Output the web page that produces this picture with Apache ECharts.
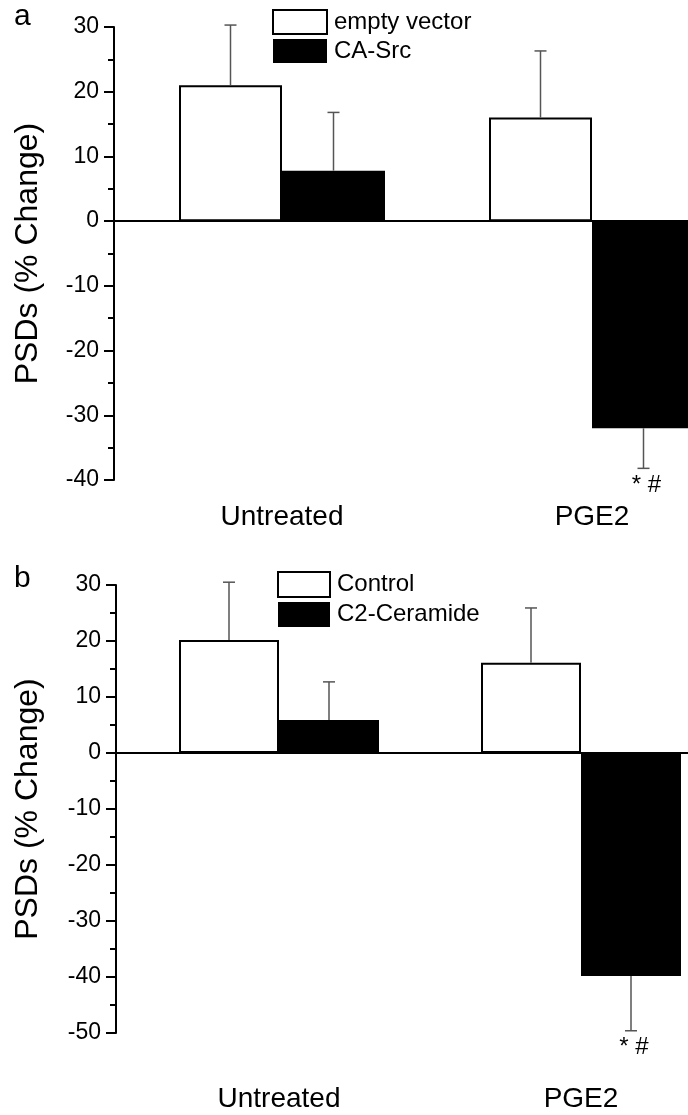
<!DOCTYPE html>
<html>
<head>
<meta charset="utf-8">
<script src="https://cdn.jsdelivr.net/npm/echarts@6/dist/echarts.min.js"></script>
<style>
  html, body { margin: 0; padding: 0; background: #fff; overflow: hidden; }
  /* wider than the window: the last bar of panel a runs off the right edge */
  #main { width: 760px; height: 1115px; }
</style>
</head>
<body>
<div id="main"></div>
<script>
// data
const categories = ['Untreated', 'PGE2'];

// panel a
const aNames = ['empty vector', 'CA-Src'];
const aEmpty = [21, 16];
const aEmptyErr = [9.3, 10.3];
const aSrc = [7.8, -32];
const aSrcErr = [9, 6.2];
const aNotes = ['', '* #'];
const aTicks = [-40, -30, -20, -10, 0, 10, 20, 30];

// panel b
const bNames = ['Control', 'C2-Ceramide'];
const bControl = [20.2, 16.1];
const bControlErr = [10.3, 9.8];
const bCer = [5.9, -39.8];
const bCerErr = [6.8, 9.8];
const bNotes = ['', '* #'];
const bTicks = [-50, -40, -30, -20, -10, 0, 10, 20, 30];

const FONT = 'Liberation Sans, Arial, Helvetica, sans-serif';

var chart = echarts.init(document.getElementById('main'));

// one panel -> pieces of the option
function panel(i, p) {
  const xa = i * 2;
  const total = p.spacer + 2 * p.barW;
  const errData = [];
  const errNotes = [];
  p.means.forEach(function (vals, k) {
    vals.forEach(function (v, c) {
      errData.push([c, v, p.errs[k][c], k]);
      errNotes.push(k === 1 ? p.notes[c] : '');
    });
  });

  return {
    title: { text: p.letter, left: p.letterX, top: p.letterY, padding: 0,
      textStyle: { fontFamily: FONT, fontSize: 30, fontWeight: 'normal', color: '#000' } },
    legend: {
      orient: 'vertical', left: p.legendX, top: p.legendY, padding: 0,
      itemWidth: p.legendW, itemHeight: p.legendH, itemGap: 4,
      selectedMode: false, icon: 'rect',
      textStyle: { fontFamily: FONT, fontSize: 24, color: '#000', padding: [0, 0, 0, 2] },
      data: [
        { name: p.names[0], itemStyle: { color: '#fff', borderColor: '#000', borderWidth: 2 } },
        { name: p.names[1], itemStyle: { color: '#000', borderColor: '#000', borderWidth: 0 } }
      ]
    },
    grid: { left: p.left, top: p.top, width: p.width, height: p.height, containLabel: false },
    xAxis: [
      { type: 'category', gridIndex: i, data: categories,
        axisLine: { onZero: true, lineStyle: { color: '#000', width: 2 } },
        axisTick: { show: false }, axisLabel: { show: false }, splitLine: { show: false } },
      // label axis at the bottom; padding moves each label to the middle of its bar pair
      { type: 'category', gridIndex: i, data: categories, position: 'bottom',
        axisLine: { show: false, onZero: false }, axisTick: { show: false },
        axisLabel: { margin: p.labelGap, padding: [0, 0, 0, p.spacer],
          fontFamily: FONT, fontSize: 28, color: '#000' } }
    ],
    yAxis: {
      type: 'value', gridIndex: i,
      min: p.ticks[0], max: p.ticks[p.ticks.length - 1], interval: 10,
      name: 'PSDs (% Change)', nameLocation: 'middle', nameGap: p.nameGap,
      nameTextStyle: { fontFamily: FONT, fontSize: 32, color: '#000' },
      axisLine: { show: true, onZero: false, lineStyle: { color: '#000', width: 2 } },
      axisTick: { show: true, length: 10, lineStyle: { color: '#000', width: 2 } },
      minorTick: { show: true, splitNumber: 2, length: 6, lineStyle: { color: '#000', width: 2 } },
      axisLabel: { margin: 15, fontFamily: FONT, fontSize: 23, color: '#000' },
      splitLine: { show: false }
    },
    series: [
      // transparent spacer that pushes each pair of bars right of the band centre
      { type: 'bar', name: 'spacer' + i, xAxisIndex: xa, yAxisIndex: i,
        data: categories.map(function () { return 0; }),
        barWidth: p.spacer, barGap: '0%', silent: true,
        itemStyle: { color: 'rgba(0,0,0,0)' } },
      { type: 'bar', name: p.names[0], xAxisIndex: xa, yAxisIndex: i, data: p.means[0],
        barWidth: p.barW, barGap: '0%',
        itemStyle: { color: '#fff', borderColor: '#000', borderWidth: 2 } },
      { type: 'bar', name: p.names[1], xAxisIndex: xa, yAxisIndex: i, data: p.means[1],
        barWidth: p.barW, barGap: '0%',
        itemStyle: { color: '#000', borderColor: '#000', borderWidth: 0 } },
      { type: 'custom', name: 'err' + i, xAxisIndex: xa, yAxisIndex: i,
        data: errData, encode: { x: 0, y: 1 }, z: 5, silent: true,
        renderItem: function (params, api) {
          const c = api.value(0), mean = api.value(1), err = api.value(2), k = api.value(3);
          const base = api.coord([c, 0]);
          const x = base[0] - total / 2 + p.spacer + p.barW * (k + 0.5);
          const top = api.coord([c, mean])[1];
          const end = api.coord([c, mean + Math.sign(mean) * err])[1];
          const st = { stroke: '#555', lineWidth: 1.5 };
          const kids = [
            { type: 'line', shape: { x1: x, y1: top, x2: x, y2: end }, style: st },
            { type: 'line', shape: { x1: x - 6, y1: end, x2: x + 6, y2: end }, style: st }
          ];
          const note = errNotes[params.dataIndex];
          if (note) {
            kids.push({ type: 'text', x: x + 3, y: end + 5,
              style: { text: note, fontFamily: FONT, fontSize: 24, fill: '#000',
                align: 'center', verticalAlign: 'top' } });
          }
          return { type: 'group', children: kids };
        } }
    ]
  };
}

const pa = panel(0, {
  letter: 'a', letterX: 14, letterY: 2,
  names: aNames, means: [aEmpty, aSrc], errs: [aEmptyErr, aSrcErr], notes: aNotes,
  ticks: aTicks,
  left: 114, top: 27, width: 620, height: 453,
  barW: 103, spacer: 26, labelGap: 23, nameGap: 70,
  legendX: 272, legendY: 9, legendW: 54, legendH: 24
});
const pb = panel(1, {
  letter: 'b', letterX: 14, letterY: 564,
  names: bNames, means: [bControl, bCer], errs: [bControlErr, bCerErr], notes: bNotes,
  ticks: bTicks,
  left: 116, top: 585, width: 604, height: 448,
  barW: 100, spacer: 24, labelGap: 52, nameGap: 72,
  legendX: 277, legendY: 571, legendW: 52, legendH: 25
});

chart.setOption({
  animation: false,
  backgroundColor: '#fff',
  title: [pa.title, pb.title],
  legend: [pa.legend, pb.legend],
  grid: [pa.grid, pb.grid],
  xAxis: pa.xAxis.concat(pb.xAxis),
  yAxis: [pa.yAxis, pb.yAxis],
  series: pa.series.concat(pb.series)
});
</script>
</body>
</html>
